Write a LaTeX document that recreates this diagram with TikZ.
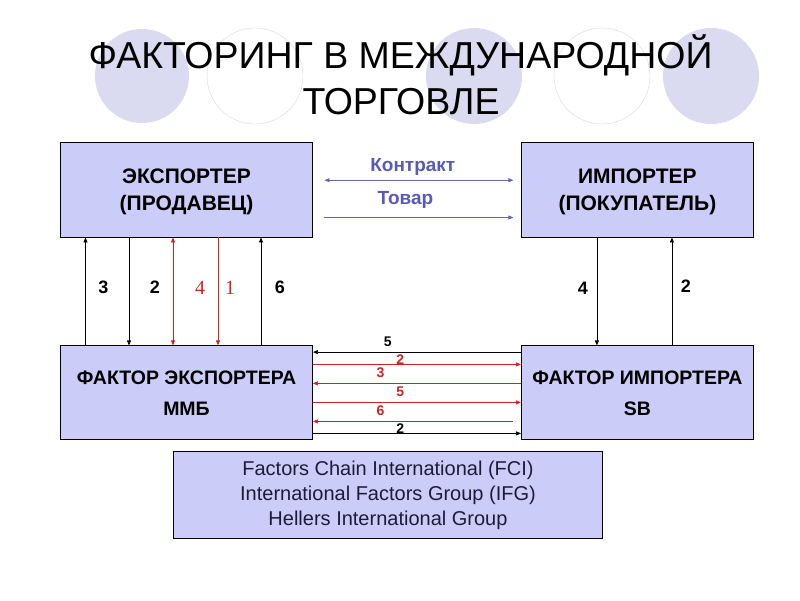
\documentclass[tikz,border=0pt]{standalone}
\usepackage{fontspec}
\setmainfont{Liberation Sans}
\newfontfamily\numfont{Liberation Serif}
\usetikzlibrary{positioning,arrows.meta}
\definecolor{boxfill}{HTML}{CCCCF8}
\definecolor{disc}{HTML}{DADAF0}
\definecolor{ring}{HTML}{D8D8D8}
\definecolor{deal}{HTML}{6666A8}
\definecolor{dealtext}{HTML}{5A5AB4}
\definecolor{pay}{HTML}{CC2222}
\definecolor{navy}{HTML}{1C1C3A}
\begin{document}
\begin{tikzpicture}[x=1pt, y=-1pt, >={Triangle[length=5pt,width=4pt]},
  box/.style = {draw, line width=0.9pt, fill=boxfill, align=center, inner sep=0pt},
  party/.style = {box, text depth=-5pt, font=\bfseries\fontsize{21}{27}\selectfont},
  factor/.style = {box, text depth=-7pt, font=\bfseries\fontsize{19.5}{31}\selectfont},
  num/.style = {font=\bfseries\fontsize{18}{20}\selectfont},
  rednum/.style = {text=pay, font=\numfont\fontsize{20}{20}\selectfont},
  flow/.style = {line width=0.7pt},
  deallabel/.style = {anchor=base, text=dealtext, font=\bfseries\fontsize{19}{20}\selectfont},
  tag/.style = {anchor=base, inner sep=0pt, font=\bfseries\fontsize{14}{15}\selectfont}]
\useasboundingbox (0,0) rectangle (800,600);

\fill[disc] (142,76) circle (47pt);
\draw[ring, fill=white] (255,76) circle (48pt);
\fill[disc] (474,76) circle (48pt);
\draw[ring, fill=white] (602,76) circle (48pt);
\fill[disc] (711,76) circle (48pt);

\node[anchor=base, font=\fontsize{37.5}{46}\selectfont] (t1) at (400.5,68) {ФАКТОРИНГ В МЕЖДУНАРОДНОЙ};
\node[anchor=base, font=\fontsize{37.5}{46}\selectfont] (t2) at (401,114) {ТОРГОВЛЕ};

\node[party, minimum width=252pt, minimum height=95pt] (exp) at (186.5,189.5) {ЭКСПОРТЕР\\(ПРОДАВЕЦ)};
\node[party, minimum width=232pt, minimum height=95pt] (imp) [right=208pt of exp] {ИМПОРТЕР\\(ПОКУПАТЕЛЬ)};
\node[factor, minimum width=252pt, minimum height=94pt] (fe) [below=108pt of exp] {ФАКТОР ЭКСПОРТЕРА\\ММБ};
\node[factor, minimum width=232pt, minimum height=94pt] (fi) [right=208pt of fe] {ФАКТОР ИМПОРТЕРА\\SB};
\node[box, text=navy, font=\fontsize{20}{25}\selectfont, minimum width=429pt, minimum height=87pt] (club) at (388,495)
  {Factors Chain International (FCI)\\International Factors Group (IFG)\\Hellers International Group};

\draw[deal, flow, <->, shorten <=11.5pt, shorten >=7.5pt] ([yshift=9.3pt]exp.east) -- node[deallabel, pos=0.48, yshift=8.7pt] {Контракт} ([yshift=9.3pt]imp.west);
\draw[deal, flow, ->, shorten <=11.5pt, shorten >=7.5pt] ([yshift=-28pt]exp.east) -- node[deallabel, pos=0.445, yshift=13pt] {Товар} ([yshift=-28pt]imp.west);

\draw[flow, ->] ([xshift=-101pt]fe.north) -- node[num, xshift=18pt, yshift=4pt] {3} ([xshift=-101pt]exp.south);
\draw[flow, <-] ([xshift=-57.5pt]fe.north) -- node[num, xshift=26pt, yshift=4pt] {2} ([xshift=-57.5pt]exp.south);
\draw[flow, pay, <->] ([xshift=-13.5pt]fe.north) -- node[rednum, xshift=27pt, yshift=4pt] {4} ([xshift=-13.5pt]exp.south);
\draw[flow, pay, <-] ([xshift=31.5pt]fe.north) -- node[rednum, xshift=12pt, yshift=4pt] {1} ([xshift=31.5pt]exp.south);
\draw[flow, ->] ([xshift=74.5pt]fe.north) -- node[num, xshift=19pt, yshift=4pt] {6} ([xshift=74.5pt]exp.south);

\draw[flow, <-] ([xshift=-40.5pt]fi.north) -- node[num, xshift=-14pt, yshift=3pt] {4} ([xshift=-40.5pt]imp.south);
\draw[flow, ->] ([xshift=34.5pt]fi.north) -- node[num, xshift=14pt, yshift=5pt] {2} ([xshift=34.5pt]imp.south);

\draw[flow, <-] ([yshift=40.8pt]fe.east) -- node[tag, pos=0.36, yshift=6pt] {5} ([yshift=40.8pt]fi.west);
\draw[flow, pay, ->] ([yshift=28.5pt]fe.east) -- node[tag, pos=0.42] {2} ([yshift=28.5pt]fi.west);
\draw[flow, pay, <-] ([yshift=9.5pt]fe.east) -- node[tag, pos=0.325, yshift=6pt] {3} ([yshift=9.5pt]fi.west);
\draw[flow, pay, ->] ([yshift=-9.5pt]fe.east) -- node[tag, pos=0.42, yshift=6pt] {5} ([yshift=-9.5pt]fi.west);
\draw[flow, pay, <-, shorten >=8pt] ([yshift=-28.5pt]fe.east) -- node[tag, pos=0.325, yshift=6pt] {6} ([yshift=-28.5pt]fi.west);
\draw[flow, ->] ([yshift=-40.5pt]fe.east) -- node[tag, pos=0.42] {2} ([yshift=-40.5pt]fi.west);

\end{tikzpicture}
\end{document}
